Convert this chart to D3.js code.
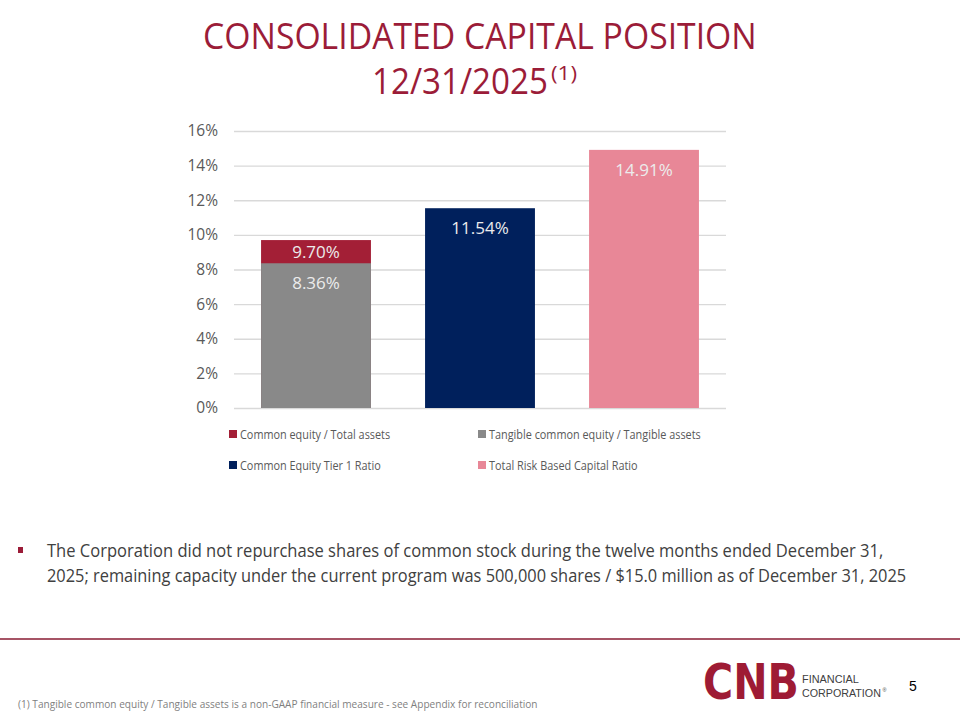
<!DOCTYPE html>
<html>
<head>
<meta charset="utf-8">
<script src="https://cdn.jsdelivr.net/npm/d3@7"></script>
<style>
  html, body { margin: 0; padding: 0; background: #fff; }
  svg { display: block; font-family: "Open Sans", "Noto Sans", sans-serif; }
</style>
</head>
<body>
<svg id="chart" width="960" height="720"></svg>
<script>
// chart data
const groups = ['Equity ratios', 'CET1', 'Total capital'];
const seriesNames = [
  'Common equity / Total assets',
  'Tangible common equity / Tangible assets',
  'Common Equity Tier 1 Ratio',
  'Total Risk Based Capital Ratio'
];
const seriesValues = [9.70, 8.36, 11.54, 14.91];
const seriesGroup = ['Equity ratios', 'Equity ratios', 'CET1', 'Total capital'];
const seriesColors = ['#a31f36', '#898989', '#00205c', '#e88797'];
const yTicks = [0, 2, 4, 6, 8, 10, 12, 14, 16];

const titleColor = '#9b1c38';
const svg = d3.select('#chart');

// text squeezed horizontally to a given width (slide fonts are narrower)
function fitText(parent, str, x, y, width, attrs) {
  const t = parent.append('text').attr('x', 0).attr('y', 0).text(str);
  Object.entries(attrs).forEach(([k, v]) => t.attr(k, v));
  const w = t.node().getComputedTextLength();
  t.attr('transform', `translate(${x},${y}) scale(${width / w},1)`);
  return t;
}

// title
fitText(svg, 'CONSOLIDATED CAPITAL POSITION', 203, 49, 554, { 'font-size': 36, fill: titleColor });
fitText(svg, '12/31/2025', 372, 94, 176, { 'font-size': 36, fill: titleColor });
fitText(svg, '(1)', 551, 80, 26, { 'font-size': 20, fill: titleColor });

// scales
const x = d3.scaleBand().domain(groups).range([234, 726]).paddingInner(0.33).paddingOuter(0.165);
const y = d3.scaleLinear().domain([0, 16]).range([408, 131]);

// gridlines + y labels
const yAxis = svg.append('g')
  .attr('transform', 'translate(234,0)')
  .call(d3.axisLeft(y).tickValues(yTicks).tickSize(-492).tickPadding(16).tickFormat(d => d + '%'));
yAxis.select('.domain').remove();
yAxis.selectAll('.tick line').attr('stroke', '#d9d9d9').attr('stroke-width', 1.3);
yAxis.selectAll('.tick text')
  .attr('fill', '#595959').attr('font-size', 15.5)
  .attr('font-family', '"Open Sans", sans-serif');

// bars (taller ones first so the stacked look comes from overlap)
const barData = seriesValues.map((v, i) => ({ name: seriesNames[i], value: v, group: seriesGroup[i], color: seriesColors[i] }))
  .sort((a, b) => b.value - a.value);

svg.append('g').selectAll('rect')
  .data(barData)
  .join('rect')
  .attr('x', d => x(d.group))
  .attr('width', x.bandwidth())
  .attr('y', d => y(d.value))
  .attr('height', d => y(0) - y(d.value))
  .attr('fill', d => d.color);

// value labels
svg.append('g').selectAll('text')
  .data(barData)
  .join('text')
  .attr('x', d => x(d.group) + x.bandwidth() / 2)
  .attr('y', d => {
    const below = barData.find(o => o.group === d.group && o.value < d.value);
    if (below) return (y(d.value) + y(below.value)) / 2 + 6;
    return y(d.value) + 26;
  })
  .attr('text-anchor', 'middle')
  .attr('font-size', 17)
  .attr('fill', '#ececec')
  .text(d => d.value.toFixed(2) + '%');

// legend
const legendPos = [[229, 434], [478, 434], [229, 465], [478, 465]];
const legend = svg.append('g').selectAll('g')
  .data(seriesNames)
  .join('g')
  .attr('transform', (d, i) => `translate(${legendPos[i][0]},${legendPos[i][1]})`);
legend.append('rect')
  .attr('x', 0).attr('y', -4).attr('width', 8).attr('height', 8)
  .attr('fill', (d, i) => seriesColors[i]);
legend.each(function (d) {
  const g = d3.select(this);
  const t = g.append('text').attr('font-size', 12.5).attr('fill', '#595959').text(d);
  const w = t.node().getComputedTextLength();
  t.attr('transform', `translate(11,4.5) scale(0.87,1)`);
});

// bullet text
svg.append('rect').attr('x', 18).attr('y', 547).attr('width', 5).attr('height', 6).attr('fill', titleColor);
const bulletLines = [
  ['The Corporation did not repurchase shares of common stock during the twelve months ended December 31,', 837],
  ['2025; remaining capacity under the current program was 500,000 shares / $15.0 million as of December 31, 2025', 860]
];
bulletLines.forEach((d, i) => {
  fitText(svg, d[0], 47, 557 + i * 25, d[1], { 'font-size': 17.5, fill: '#404040' });
});

// footer rule
svg.append('line').attr('x1', 0).attr('x2', 960).attr('y1', 639).attr('y2', 639)
  .attr('stroke', '#a65465').attr('stroke-width', 2);

// footnote
fitText(svg, '(1) Tangible common equity / Tangible assets is a non-GAAP financial measure - see Appendix for reconciliation',
  18, 708, 520, { 'font-size': 11, fill: '#7f7f7f' });

// logo
fitText(svg, 'CNB', 703, 699, 96, {
  'font-family': '"DejaVu Sans", sans-serif', 'font-weight': 'bold', 'font-size': 49, fill: '#9e1b34'
});
const logoFont = { 'font-family': '"Liberation Sans", Arial, sans-serif', 'font-size': 11, fill: '#404040' };
fitText(svg, 'FINANCIAL', 802, 683, 57, logoFont);
fitText(svg, 'CORPORATION', 802, 697, 79, logoFont);
fitText(svg, '®', 882.5, 692, 4, { 'font-family': '"Liberation Sans", Arial, sans-serif', 'font-size': 5, fill: '#404040' });

// page number
svg.append('text')
  .attr('x', 909).attr('y', 691)
  .attr('font-family', '"Liberation Sans", Arial, sans-serif')
  .attr('font-size', 14).attr('fill', '#000')
  .text('5');
</script>
</body>
</html>
